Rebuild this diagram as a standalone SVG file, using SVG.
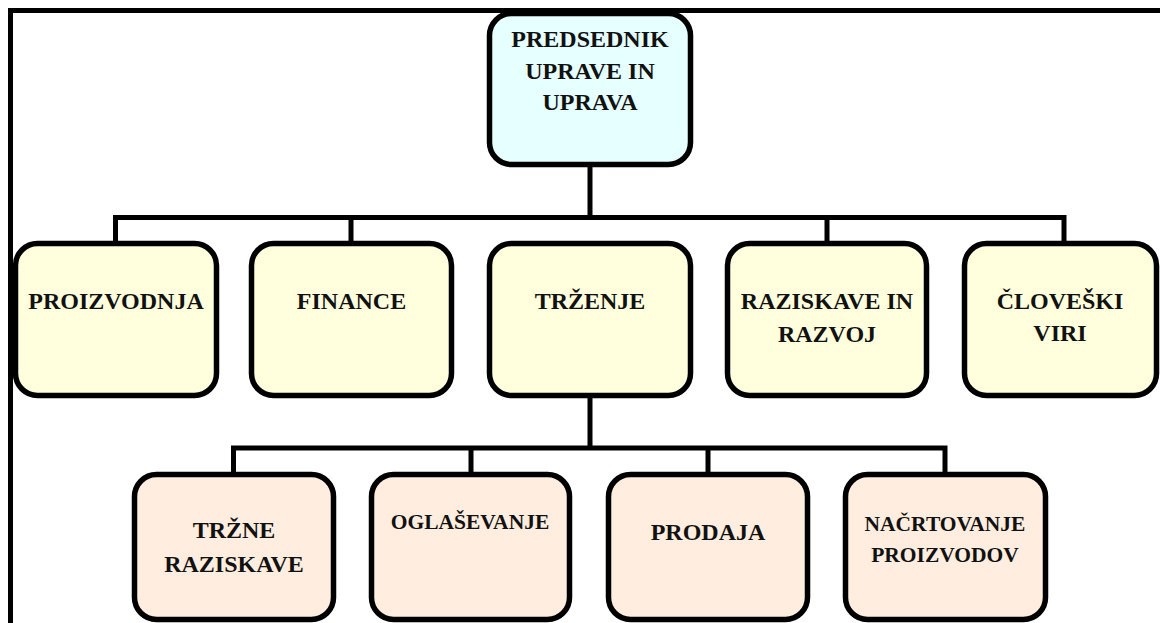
<svg xmlns="http://www.w3.org/2000/svg" width="1160" height="623" viewBox="0 0 1160 623">
<style>
.box{stroke:#000;stroke-width:5.5}
.top{fill:#E6FFFF}
.l2{fill:#FFFFDD}
.l3{fill:#FFEEDF}
.c{fill:none;stroke:#000;stroke-width:5}
text{font-family:"Liberation Serif","Times New Roman",serif;font-weight:bold;font-size:24px;fill:#111;text-anchor:middle}
.s{font-size:21.5px}
</style>
<rect width="1160" height="623" fill="#fff"/>
<path class="c" d="M10.5,623 V10.5 H1160"/>
<g id="connectors">
<path class="c" d="M590,165 V217.5 M115.5,243 V217.5 H1064 V243 M351,217.5 V243 M827,217.5 V243"/>
<path class="c" d="M590,396 V448 M233.5,474 V448 H945 V474 M471,448 V474 M708,448 V474"/>
</g>
<g id="n_top"><rect class="box top" x="489.5" y="13.5" width="201" height="151" rx="22"/>
<text x="590" y="47">PREDSEDNIK</text><text x="590" y="79">UPRAVE IN</text><text x="590" y="110">UPRAVA</text></g>
<g id="n_proizvodnja"><rect class="box l2" x="15.5" y="243.5" width="201" height="152" rx="22"/><text x="116" y="309">PROIZVODNJA</text></g>
<g id="n_finance"><rect class="box l2" x="251.5" y="243.5" width="200" height="152" rx="22"/><text x="351.5" y="309">FINANCE</text></g>
<g id="n_trzenje"><rect class="box l2" x="489.5" y="243.5" width="201" height="152" rx="22"/><text x="590" y="309">TRŽENJE</text></g>
<g id="n_raziskave"><rect class="box l2" x="727.5" y="243.5" width="199" height="152" rx="22"/><text x="827" y="309">RAZISKAVE IN</text><text x="827" y="342">RAZVOJ</text></g>
<g id="n_cloveski"><rect class="box l2" x="964.5" y="243.5" width="192" height="152" rx="22"/><text x="1060" y="309">ČLOVEŠKI</text><text x="1060" y="341">VIRI</text></g>
<g id="n_trzne"><rect class="box l3" x="134.5" y="474.5" width="199" height="145" rx="22"/><text x="234" y="538">TRŽNE</text><text x="234" y="572">RAZISKAVE</text></g>
<g id="n_oglasevanje"><rect class="box l3" x="371.5" y="474.5" width="198" height="145" rx="22"/><text class="s" x="470" y="529">OGLAŠEVANJE</text></g>
<g id="n_prodaja"><rect class="box l3" x="608.5" y="474.5" width="199" height="145" rx="22"/><text x="708" y="540">PRODAJA</text></g>
<g id="n_nacrtovanje"><rect class="box l3" x="845.5" y="474.5" width="200" height="145" rx="22"/><text class="s" x="945" y="531">NAČRTOVANJE</text><text class="s" x="945" y="562">PROIZVODOV</text></g>
</svg>
